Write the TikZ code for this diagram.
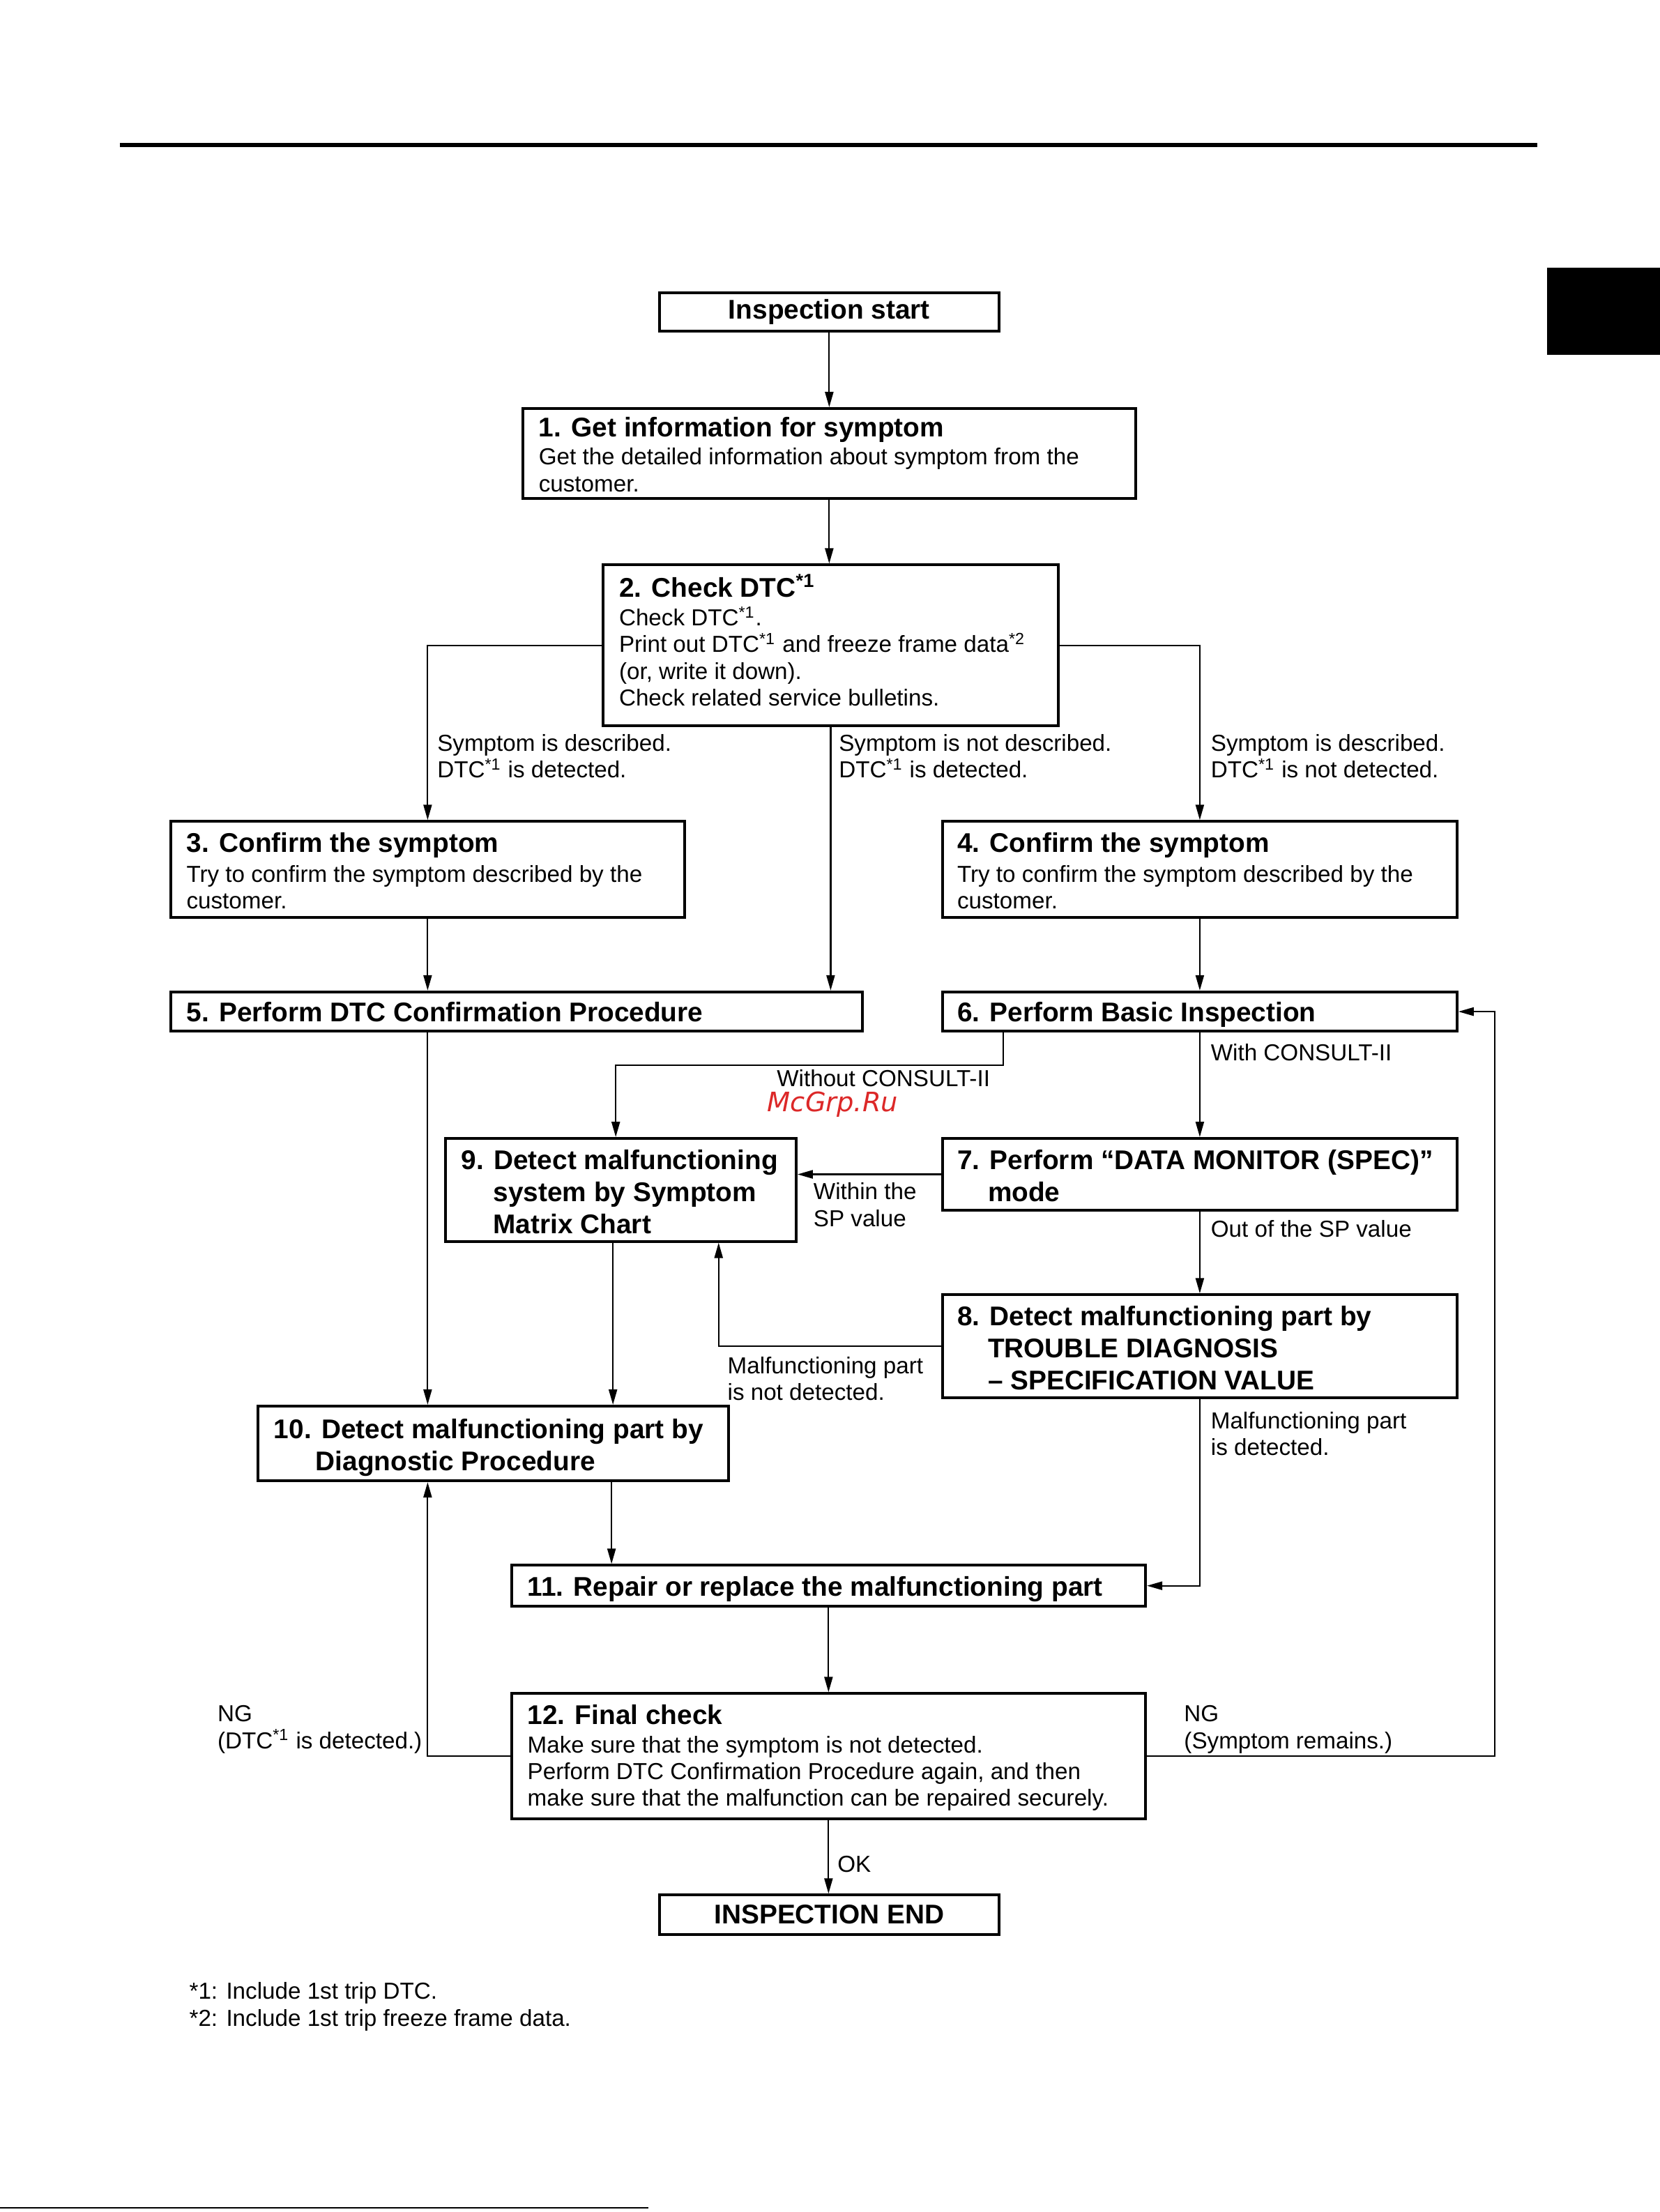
\documentclass[tikz,border=0pt]{standalone}
\usepackage{fontspec}
\setmainfont{Liberation Sans}
\newfontfamily\wmfont{DejaVu Sans}
\usetikzlibrary{arrows.meta,fit,calc}
\definecolor{wmred}{RGB}{220,40,40}
\tikzset{
  box/.style={draw, line width=1pt, inner sep=0pt, rectangle},
  tit/.style={anchor=base west, inner sep=0pt, align=left, font=\fontsize{9.7}{11.5}\selectfont\bfseries},
  txt/.style={anchor=base west, inner sep=0pt, align=left, font=\fontsize{8.3}{9.6}\selectfont},
  arr/.style={line width=0.55pt, -{Triangle[length=5.5pt,width=3pt]}},
}
\newcommand{\sx}[1]{\textsuperscript{#1}}
\begin{document}
\begin{tikzpicture}[x=0.25265pt,y=-0.25265pt]
\useasboundingbox (0,0) rectangle (2356,3140);
% page decorations
\draw[line width=1.5pt] (170,206) -- (2182,206);
\fill (2196,380) rectangle (2356,504);
\draw[line width=0.6pt] (0,3134) -- (920,3134);

% boxes
\node[box, fit={(936,416)(1418,470)}] (start) {};
\node[box, fit={(742,580)(1612,708)}] (b1) {};
\node[box, fit={(856,802)(1502,1030)}] (b2) {};
\node[box, fit={(242,1166)(972,1302)}] (b3) {};
\node[box, fit={(1338,1166)(2068,1302)}] (b4) {};
\node[box, fit={(242,1408)(1224,1464)}] (b5) {};
\node[box, fit={(1338,1408)(2068,1464)}] (b6) {};
\node[box, fit={(1338,1616)(2068,1718)}] (b7) {};
\node[box, fit={(632,1616)(1130,1762)}] (b9) {};
\node[box, fit={(1338,1838)(2068,1984)}] (b8) {};
\node[box, fit={(366,1996)(1034,2102)}] (b10) {};
\node[box, fit={(726,2222)(1626,2280)}] (b11) {};
\node[box, fit={(726,2404)(1626,2582)}] (b12) {};
\node[box, fit={(936,2690)(1418,2746)}] (end) {};

% box texts (multi-line nodes are placed at the baseline of their last line)
\node[tit, anchor=center] (tstart) at (start.center) {Inspection start};
\node[tit] (t1) at (764,620) {1. Get information for symptom};
\node[txt] (d1) at (764,698) {Get the detailed information about symptom from the\\customer.};
\node[tit] (t2) at (878,848) {2. Check DTC\sx{*1}};
\node[txt] (d2) at (878,1002) {Check DTC\sx{*1}.\\Print out DTC\sx{*1} and freeze frame data\sx{*2}\\(or, write it down).\\Check related service bulletins.};
\node[tit] (t3) at (264,1210) {3. Confirm the symptom};
\node[txt] (d3) at (264,1290) {Try to confirm the symptom described by the\\customer.};
\node[tit] (t4) at (1358,1210) {4. Confirm the symptom};
\node[txt] (d4) at (1358,1290) {Try to confirm the symptom described by the\\customer.};
\node[tit] (t5) at (264,1450) {5. Perform DTC Confirmation Procedure};
\node[tit] (t6) at (1358,1450) {6. Perform Basic Inspection};
\node[tit] (t7) at (1358,1706) {7. Perform “DATA MONITOR (SPEC)”\\\hspace*{11pt}mode};
\node[tit] (t9) at (654,1751) {9. Detect malfunctioning\\\hspace*{11.5pt}system by Symptom\\\hspace*{11.5pt}Matrix Chart};
\node[tit] (t8) at (1358,1973) {8. Detect malfunctioning part by\\\hspace*{11pt}TROUBLE DIAGNOSIS\\\hspace*{11pt}– SPECIFICATION VALUE};
\node[tit] (t10) at (388,2088) {10. Detect malfunctioning part by\\\hspace*{15pt}Diagnostic Procedure};
\node[tit] (t11) at (748,2266) {11. Repair or replace the malfunctioning part};
\node[tit] (t12) at (748,2448) {12. Final check};
\node[txt] (d12) at (748,2564) {Make sure that the symptom is not detected.\\Perform DTC Confirmation Procedure again, and then\\make sure that the malfunction can be repaired securely.};
\node[tit, anchor=center] (tend) at (end.center) {INSPECTION END};

% helper coordinates on box edges
\coordinate (b6o) at ($(b6.south west)+(88,0)$);
\coordinate (b9i) at ($(b9.north)+(-7,0)$);
\coordinate (b9r) at ($(b9.south west)+(390,0)$);
\coordinate (b9o) at ($(b9.south west)+(240,0)$);
\coordinate (b10o) at ($(b10.south west)+(504,0)$);

% connectors
\draw[arr] (start.south) -- (start.south |- b1.north);
\draw[arr] (b1.south) -- (b1.south |- b2.north);
\draw[arr] (b2.west) -| (b3.north);
\draw[arr] (b2.east) -| (b4.north);
\draw[arr] (b2.south) -- (b2.south |- b5.north);
\draw[arr] (b3.south) -- (b3.south |- b5.north);
\draw[arr] (b4.south) -- (b4.south |- b6.north);
\draw[arr] (b6o) -- ++(0,46) -| (b9i);
\draw[arr] (b6.south) -- (b6.south |- b7.north);
\draw[arr] (b7.west) -- (b7.west -| b9.east);
\draw[arr] (b7.south) -- (b7.south |- b8.north);
\draw[arr] (b8.west) -| (b9r);
\draw[arr] (b9o) -- (b9o |- b10.north);
\draw[arr] (b3.south |- b5.south) -- (b3.south |- b10.north);
\draw[arr] (b10o) -- (b10o |- b11.north);
\draw[arr] (b8.south) |- (b11.east);
\draw[arr] (b11.south) -- (b11.south |- b12.north);
\draw[arr] (b12.west) -| (b3.south |- b10.south);
\draw[arr] (b12.east) -- ++(494,0) |- (b6.east);
\draw[arr] (b12.south) -- (b12.south |- end.north);

% connector labels
\node[txt] (l1) at (620,1104) {Symptom is described.\\DTC\sx{*1} is detected.};
\node[txt] (l2) at (1190,1104) {Symptom is not described.\\DTC\sx{*1} is detected.};
\node[txt] (l3) at (1718,1104) {Symptom is described.\\DTC\sx{*1} is not detected.};
\node[txt] (l4) at (1102,1542) {Without CONSULT-II};
\node[txt] (l5) at (1718,1506) {With CONSULT-II};
\node[txt] (l6) at (1154,1741) {Within the\\SP value};
\node[txt] (l7) at (1718,1756) {Out of the SP value};
\node[txt] (l8) at (1032,1988) {Malfunctioning part\\is not detected.};
\node[txt] (l9) at (1718,2066) {Malfunctioning part\\is detected.};
\node[txt] (l10) at (308,2482) {NG\\(DTC\sx{*1} is detected.)};
\node[txt] (l11) at (1680,2482) {NG\\(Symptom remains.)};
\node[txt] (l12) at (1188,2658) {OK};

% watermark
\node[inner sep=0pt, text=wmred, font=\wmfont\itshape\fontsize{9.6}{11}\selectfont] (wm) at (1182,1568) {McGrp.Ru};

% footnotes
\node[txt] (fn) at (268,2876) {*1: Include 1st trip DTC.\\*2: Include 1st trip freeze frame data.};
\end{tikzpicture}
\end{document}
